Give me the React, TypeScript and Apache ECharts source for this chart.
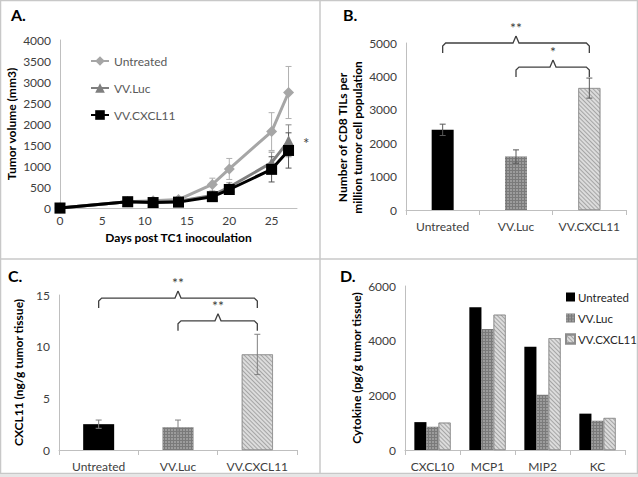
import React, { useEffect, useRef } from 'react';
import * as echarts from 'echarts';

const days = [0, 8, 11, 14, 18, 20, 25, 27];
const untreatedVol = [0, 150, 170, 200, 560, 930, 1820, 2750];
const untreatedErr = [0, 30, 40, 50, 150, 250, 450, 620];
const lucVol = [0, 150, 140, 160, 300, 500, 1080, 1600];
const lucErr = [0, 30, 30, 40, 60, 100, 250, 380];
const cxclVol = [0, 150, 130, 140, 270, 440, 920, 1370];
const cxclErr = [0, 30, 30, 40, 60, 100, 300, 420];

const groups = ['Untreated', 'VV.Luc', 'VV.CXCL11'];
const cd8Values = [2400, 1600, 3650];
const cd8Err = [170, 200, 300];
const cxcl11Values = [2.5, 2.2, 9.25];
const cxcl11Err = [0.4, 0.7, 1.95];

const cytokines = ['CXCL10', 'MCP1', 'MIP2', 'KC'];
const cytoUntreated = [1020, 5220, 3780, 1330];
const cytoLuc = [850, 4430, 2020, 1070];
const cytoCxcl = [1000, 4950, 4090, 1170];

const bracketsB = [[0, 2, 5000], [1, 2, 4280]];
const bracketsBLabels = ['**', '*'];
const bracketsC = [[0, 2, 14.7], [1, 2, 12.5]];
const bracketsCLabels = ['**', '**'];

const FONT = 'Lato, "Open Sans", sans-serif';
const AXIS_COLOR = '#bfbfbf';
const LABEL_COLOR = '#404040';
const PEAK = 7;

const lucDecal = {
  symbol: 'rect',
  symbolSize: 1,
  dashArrayX: [2, 1],
  dashArrayY: [2, 1],
  color: 'rgba(190,190,190,0.5)',
};
const cxclDecal = {
  symbol: 'rect',
  symbolSize: 1,
  dashArrayX: [1, 0],
  dashArrayY: [1, 2],
  rotation: Math.PI / 4,
  color: 'rgba(120,120,120,0.55)',
};

const errRender = (color: string, cap: number) => (params: any, api: any) => {
  const x = api.value(0);
  const lo = api.value(1);
  const hi = api.value(2);
  const p1 = api.coord([x, hi]);
  const p2 = api.coord([x, lo]);
  const st = { stroke: color, lineWidth: 1 };
  return {
    type: 'group',
    children: [
      { type: 'line', shape: { x1: p1[0], y1: p1[1], x2: p2[0], y2: p2[1] }, style: st },
      { type: 'line', shape: { x1: p1[0] - cap, y1: p1[1], x2: p1[0] + cap, y2: p1[1] }, style: st },
      { type: 'line', shape: { x1: p2[0] - cap, y1: p2[1], x2: p2[0] + cap, y2: p2[1] }, style: st },
    ],
  };
};

const bracketRender = (params: any, api: any) => {
  const i1 = api.value(0);
  const i2 = api.value(1);
  const lvl = api.value(2);
  const a = api.coord([i1, lvl]);
  const b = api.coord([i2, lvl]);
  const y = a[1];
  const xm = Math.round((a[0] + b[0]) / 2);
  const drop = 10;
  const st = { stroke: '#404040', lineWidth: 1.3, fill: 'none' };
  return {
    type: 'group',
    children: [
      {
        type: 'polyline',
        shape: { points: [[a[0], y + drop], [a[0], y + 3], [a[0] + 3, y], [xm - 3, y], [xm, y - PEAK]] },
        style: st,
      },
      {
        type: 'polyline',
        shape: { points: [[xm, y - PEAK], [xm + 3, y], [b[0] - 3, y], [b[0], y + 3], [b[0], y + drop]] },
        style: st,
      },
    ],
  };
};

const numFmt = (v: number) => String(v);

const valueAxis = (gridIndex: number, max: number, interval: number, name: string, nameGap: number, padding: number[] = [0, 0, 0, 0]) => ({
  type: 'value',
  gridIndex,
  min: 0,
  max,
  interval,
  name,
  nameLocation: 'middle',
  nameGap,
  nameTextStyle: { fontFamily: FONT, fontWeight: 'bold', fontSize: 12, color: '#000', lineHeight: 15, padding },
  axisLine: { show: true, lineStyle: { color: AXIS_COLOR } },
  axisTick: { show: false },
  splitLine: { show: false },
  axisLabel: { fontFamily: FONT, fontSize: 12, color: LABEL_COLOR, margin: 9, formatter: numFmt },
});

const catAxis = (gridIndex: number, data: string[]) => ({
  type: 'category',
  gridIndex,
  data,
  axisLine: { show: true, lineStyle: { color: AXIS_COLOR } },
  axisTick: { show: true, length: 5, lineStyle: { color: AXIS_COLOR } },
  splitLine: { show: false },
  axisLabel: { fontFamily: FONT, fontSize: 12, color: LABEL_COLOR, margin: 10, interval: 0 },
});

const errData = (xs: number[], vals: number[], errs: number[]) =>
  xs.map((x, i) => [x, vals[i] - errs[i], vals[i] + errs[i]]).filter((_, i) => errs[i] > 0);

export default function App() {
  const ref = useRef<HTMLDivElement>(null);
  useEffect(() => {
    if (!ref.current) return;
    const chart = echarts.init(ref.current, null, { renderer: 'svg' });
    const baseGraphic: any[] = [
      { type: 'rect', shape: { x: 0.5, y: 0.5, width: 637, height: 473 }, style: { fill: 'none', stroke: '#c8c8c8', lineWidth: 1.5 }, z: 100 },
      { type: 'line', shape: { x1: 320, y1: 0, x2: 320, y2: 474 }, style: { stroke: '#c8c8c8', lineWidth: 1.5 }, z: 100 },
      { type: 'line', shape: { x1: 0, y1: 259, x2: 638, y2: 259 }, style: { stroke: '#c8c8c8', lineWidth: 1.5 }, z: 100 },
      { type: 'rect', shape: { x: 0, y: 474, width: 638, height: 3 }, style: { fill: '#e6e6e6' }, z: 100 },
      { type: 'text', left: 11, top: 6, style: { text: 'A.', font: 'bold 16px ' + FONT, fill: '#000' } },
      { type: 'text', left: 343, top: 6, style: { text: 'B.', font: 'bold 16px ' + FONT, fill: '#000' } },
      { type: 'text', left: 8, top: 267, style: { text: 'C.', font: 'bold 16px ' + FONT, fill: '#000' } },
      { type: 'text', left: 340, top: 267, style: { text: 'D.', font: 'bold 16px ' + FONT, fill: '#000' } },
      { type: 'text', left: 303, top: 135, style: { text: '*', font: '15px ' + FONT, fill: '#404040' } },
    ];
    const option: any = {
      animation: false,
      backgroundColor: '#fff',
      textStyle: { fontFamily: FONT },
      grid: [
        { left: 60, top: 40, width: 237, height: 168 },
        { left: 406, top: 43, width: 220, height: 167 },
        { left: 59, top: 295, width: 238, height: 155 },
        { left: 405, top: 286, width: 220, height: 164 },
      ],
      xAxis: [
        {
          type: 'value',
          gridIndex: 0,
          min: 0,
          max: 28,
          interval: 5,
          name: 'Days post TC1 inocoulation',
          nameLocation: 'middle',
          nameGap: 23,
          nameTextStyle: { fontFamily: FONT, fontWeight: 'bold', fontSize: 12, color: '#000' },
          axisLine: { show: true, lineStyle: { color: AXIS_COLOR } },
          axisTick: { show: false },
          splitLine: { show: false },
          axisLabel: { fontFamily: FONT, fontSize: 12, lineHeight: 13, color: LABEL_COLOR, margin: 6, showMaxLabel: false },
        },
        catAxis(1, groups),
        catAxis(2, groups),
        catAxis(3, cytokines),
      ],
      yAxis: [
        valueAxis(0, 4000, 500, 'Tumor volume (mm3)', 34),
        valueAxis(1, 5000, 1000, 'Number of CD8 TILs per\nmillion tumor cell population', 33, [0, 22, 0, 0]),
        valueAxis(2, 15, 5, 'CXCL11 (ng/g tumor tissue)', 33),
        valueAxis(3, 6000, 2000, 'Cytokine (pg/g tumor tissue)', 37),
      ],
      legend: [
        {
          orient: 'vertical',
          left: 90,
          top: 55,
          padding: 0,
          itemGap: 15,
          itemWidth: 18,
          itemHeight: 12,
          data: ['A:Untreated', 'A:VV.Luc', 'A:VV.CXCL11'],
          formatter: (n: string) => n.split(':')[1],
          textStyle: { fontFamily: FONT, fontSize: 12, color: '#595959' },
          selectedMode: false,
        },
        {
          orient: 'vertical',
          left: 565,
          top: 291,
          padding: 0,
          itemGap: 9,
          itemWidth: 9,
          itemHeight: 9,
          icon: 'rect',
          data: ['D:Untreated', 'D:VV.Luc', 'D:VV.CXCL11'],
          formatter: (n: string) => n.split(':')[1],
          textStyle: { fontFamily: FONT, fontSize: 11.5, color: '#262626', padding: [0, 0, 0, -2] },
          selectedMode: false,
        },
      ],
      graphic: baseGraphic,
      series: [
        {
          type: 'custom', name: 'errU', xAxisIndex: 0, yAxisIndex: 0, z: 1,
          renderItem: errRender('#b0b0b0', 3), data: errData(days, untreatedVol, untreatedErr),
        },
        {
          type: 'custom', name: 'errL', xAxisIndex: 0, yAxisIndex: 0, z: 1,
          renderItem: errRender('#8a8a8a', 3), data: errData(days, lucVol, lucErr),
        },
        {
          type: 'custom', name: 'errC', xAxisIndex: 0, yAxisIndex: 0, z: 1,
          renderItem: errRender('#555555', 3), data: errData(days, cxclVol, cxclErr),
        },
        {
          type: 'line', name: 'A:Untreated', xAxisIndex: 0, yAxisIndex: 0, z: 3,
          data: days.map((d, i) => [d, untreatedVol[i]]),
          symbol: 'diamond', symbolSize: 11,
          lineStyle: { color: '#a6a6a6', width: 3 },
          itemStyle: { color: '#a6a6a6' },
        },
        {
          type: 'line', name: 'A:VV.Luc', xAxisIndex: 0, yAxisIndex: 0, z: 4,
          data: days.map((d, i) => [d, lucVol[i]]),
          symbol: 'triangle', symbolSize: 11,
          lineStyle: { color: '#7f7f7f', width: 3 },
          itemStyle: { color: '#7f7f7f' },
        },
        {
          type: 'line', name: 'A:VV.CXCL11', xAxisIndex: 0, yAxisIndex: 0, z: 5,
          data: days.map((d, i) => [d, cxclVol[i]]),
          symbol: 'rect', symbolSize: 11,
          lineStyle: { color: '#000', width: 3 },
          itemStyle: { color: '#000' },
        },
        {
          type: 'bar', name: 'B', xAxisIndex: 1, yAxisIndex: 1, barWidth: 22,
          data: cd8Values.map((v, i) => ({
            value: v,
            itemStyle: i === 0
              ? { color: '#000' }
              : i === 1
                ? { color: '#7a7a7a', decal: lucDecal }
                : { color: '#dcdcdc', borderColor: '#8c8c8c', borderWidth: 0.6, decal: cxclDecal },
          })),
        },
        {
          type: 'custom', name: 'errB', xAxisIndex: 1, yAxisIndex: 1, z: 5,
          renderItem: errRender('#595959', 3),
          data: cd8Values.map((v, i) => [i, v - cd8Err[i], v + cd8Err[i]]),
        },
        {
          type: 'custom', name: 'brB', xAxisIndex: 1, yAxisIndex: 1, z: 5, clip: false,
          renderItem: bracketRender, data: bracketsB,
        },
        {
          type: 'bar', name: 'C', xAxisIndex: 2, yAxisIndex: 2, barWidth: 31,
          data: cxcl11Values.map((v, i) => ({
            value: v,
            itemStyle: i === 0
              ? { color: '#000' }
              : i === 1
                ? { color: '#7a7a7a', decal: lucDecal }
                : { color: '#dcdcdc', borderColor: '#8c8c8c', borderWidth: 0.6, decal: cxclDecal },
          })),
        },
        {
          type: 'custom', name: 'errC2', xAxisIndex: 2, yAxisIndex: 2, z: 5,
          renderItem: errRender('#808080', 3),
          data: cxcl11Values.map((v, i) => [i, v - cxcl11Err[i], v + cxcl11Err[i]]),
        },
        {
          type: 'custom', name: 'brC', xAxisIndex: 2, yAxisIndex: 2, z: 5, clip: false,
          renderItem: bracketRender, data: bracketsC,
        },
        {
          type: 'bar', name: 'D:Untreated', xAxisIndex: 3, yAxisIndex: 3,
          barGap: '0%', barCategoryGap: '34%',
          itemStyle: { color: '#000' }, data: cytoUntreated,
        },
        {
          type: 'bar', name: 'D:VV.Luc', xAxisIndex: 3, yAxisIndex: 3,
          barGap: '0%', barCategoryGap: '34%',
          itemStyle: { color: '#7a7a7a', decal: lucDecal }, data: cytoLuc,
        },
        {
          type: 'bar', name: 'D:VV.CXCL11', xAxisIndex: 3, yAxisIndex: 3,
          barGap: '0%', barCategoryGap: '34%',
          itemStyle: { color: '#dcdcdc', borderColor: '#8c8c8c', borderWidth: 0.6, decal: cxclDecal }, data: cytoCxcl,
        },
      ],
    };
    chart.setOption(option);

    // star labels placed through the axes' own scales
    const starTexts: any[] = [];
    const addStars = (gridIdx: number, list: number[][], labels: string[]) => {
      list.forEach((br, k) => {
        const a = chart.convertToPixel({ xAxisIndex: gridIdx, yAxisIndex: gridIdx }, [br[0], br[2]]) as number[];
        const b = chart.convertToPixel({ xAxisIndex: gridIdx, yAxisIndex: gridIdx }, [br[1], br[2]]) as number[];
        const xm = Math.round((a[0] + b[0]) / 2);
        starTexts.push({
          type: 'text',
          x: xm,
          y: Math.round(a[1] - PEAK - 2),
          z: 50,
          style: {
            text: labels[k],
            align: 'center',
            verticalAlign: 'bottom',
            font: '14px ' + FONT,
            fill: '#3c3c3c',
          },
        });
      });
    };
    addStars(1, bracketsB, bracketsBLabels);
    addStars(2, bracketsC, bracketsCLabels);
    chart.setOption({ graphic: [...baseGraphic, ...starTexts] });
    return () => chart.dispose();
  }, []);
  return (
    <div
      ref={ref}
      style={{ position: 'absolute', left: 0, top: 0, width: 638, height: 477 }}
    />
  );
}
